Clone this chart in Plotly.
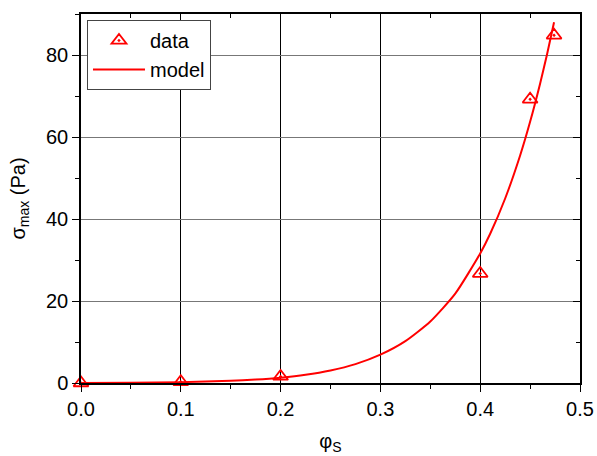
import plotly.graph_objects as go

# Measured maximum stress versus solid fraction
phi_data = [0.0, 0.1, 0.2, 0.4, 0.45, 0.474]
sigma_data = [0.0, 0.3, 1.6, 26.7, 69.2, 84.8]

# Fitted model curve, sampled along phi
phi_model = [0.0, 0.05, 0.1, 0.15, 0.175, 0.2, 0.225, 0.25, 0.275, 0.3,
             0.325, 0.35, 0.375, 0.4, 0.41, 0.425, 0.44, 0.45, 0.46, 0.467,
             0.474]
sigma_model = [0.03, 0.08, 0.21, 0.53, 0.83, 1.3, 2.0, 3.05, 4.6, 6.9,
               10.2, 15.0, 21.8, 31.6, 36.4, 45.0, 55.5, 63.7, 73.0, 80.2,
               88.0]

x_ticks = [0.0, 0.1, 0.2, 0.3, 0.4, 0.5]
x_ticklabels = ["0.0", "0.1", "0.2", "0.3", "0.4", "0.5"]
y_ticks = [0, 20, 40, 60, 80]

FONT = "Liberation Sans, Arial, sans-serif"
RED = "#ff0000"

fig = go.Figure()
fig.add_trace(go.Scatter(
    x=phi_data, y=sigma_data, mode="markers", name="data",
    marker=dict(symbol="triangle-up-open-dot", size=13, color=RED,
                line=dict(color=RED, width=1.8)),
    cliponaxis=False,
))
fig.add_trace(go.Scatter(
    x=phi_model, y=sigma_model, mode="lines", name="model",
    line=dict(color=RED, width=2, shape="spline", smoothing=0.6),
    cliponaxis=False,
))

x_range = [0.0, 0.5]
y_range = [0, 90]

fig.update_layout(
    width=597, height=456,
    margin=dict(l=81, r=17, t=14, b=73, autoexpand=False),
    paper_bgcolor="white", plot_bgcolor="white",
    font=dict(family=FONT, size=20, color="black"),
    showlegend=True,
    legend=dict(x=0.012, y=0.984, xanchor="left", yanchor="top",
                bgcolor="white", bordercolor="#444444", borderwidth=1,
                font=dict(size=20), itemwidth=52, tracegroupgap=0),
    xaxis=dict(
        range=x_range, tickvals=x_ticks, ticktext=x_ticklabels,
        showgrid=True, gridcolor="black", gridwidth=1, zeroline=False,
        showline=True, linecolor="black", linewidth=1.5,
        ticks="outside", ticklen=7, tickwidth=1.2, tickcolor="black",
        minor=dict(dtick=0.05, ticks="outside", ticklen=4, tickcolor="black",
                   showgrid=False),
        title=dict(text="φ<sub>S</sub>", font=dict(size=20)),
        tickfont=dict(size=20), automargin=False,
    ),
    yaxis=dict(
        range=y_range, tickvals=y_ticks,
        showgrid=True, gridcolor="#777777", gridwidth=1, zeroline=False,
        showline=True, linecolor="black", linewidth=1.5,
        ticks="outside", ticklen=7, tickwidth=1.2, tickcolor="black",
        minor=dict(dtick=10, ticks="outside", ticklen=4, tickcolor="black",
                   showgrid=False),
        title=dict(text="σ<sub>max</sub> (Pa)", font=dict(size=20)),
        tickfont=dict(size=20), automargin=False,
    ),
    # Mirrored frame on top and right with inward ticks
    xaxis2=dict(
        overlaying="x", side="top", range=x_range, tickvals=x_ticks,
        showticklabels=False, showgrid=False, zeroline=False,
        showline=True, linecolor="black", linewidth=1.5,
        ticks="inside", ticklen=7, tickwidth=1.2, tickcolor="black",
        minor=dict(dtick=0.05, ticks="inside", ticklen=4, tickcolor="black",
                   showgrid=False),
        automargin=False,
    ),
    yaxis2=dict(
        overlaying="y", side="right", range=y_range, tickvals=y_ticks,
        showticklabels=False, showgrid=False, zeroline=False,
        showline=True, linecolor="black", linewidth=1.5,
        ticks="inside", ticklen=7, tickwidth=1.2, tickcolor="black",
        minor=dict(dtick=10, ticks="inside", ticklen=4, tickcolor="black",
                   showgrid=False),
        automargin=False,
    ),
)

# Invisible trace so the mirrored axes are laid out
fig.add_trace(go.Scatter(x=[None], y=[None], xaxis="x2", yaxis="y2",
                         showlegend=False, hoverinfo="skip"))

fig.write_html("out.html")
